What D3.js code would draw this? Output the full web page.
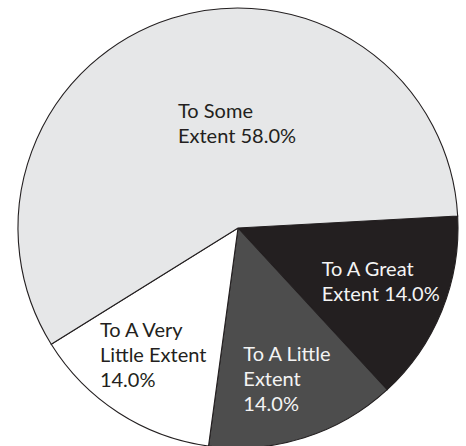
<!DOCTYPE html>
<html><head><meta charset="utf-8">
<script src="https://cdn.jsdelivr.net/npm/d3@7"></script>
<style>html,body{margin:0;padding:0;background:#fff;}svg{display:block;}</style>
</head><body>
<svg id="chart" width="466" height="446"></svg>
<script>
const categories = ["To A Great Extent", "To A Little Extent", "To A Very Little Extent", "To Some Extent"];
const values = [14.0, 14.0, 14.0, 58.0];
const labelLines = [
  ["To A Great", "Extent 14.0%"],
  ["To A Little", "Extent", "14.0%"],
  ["To A Very", "Little Extent", "14.0%"],
  ["To Some", "Extent 58.0%"]
];
const fills = ["#231f20", "#4d4d4d", "#ffffff", "#e6e7e8"];
const textColors = ["#f4f4f4", "#f4f4f4", "#231f20", "#231f20"];

const W = 466, H = 446, cx = 238, cy = 228, R = 220;
const svg = d3.select("#chart");
const g = svg.append("g").attr("transform", `translate(${cx},${cy})`);

const startDeg = 86.9;
const pie = d3.pie().sort(null).value(d => d)
  .startAngle(startDeg * Math.PI / 180)
  .endAngle((startDeg + 360) * Math.PI / 180);
const arcs = pie(values);
const arc = d3.arc().innerRadius(0).outerRadius(R);

g.selectAll("path.slice").data(arcs).join("path")
  .attr("class", "slice")
  .attr("d", arc)
  .attr("fill", (d, i) => fills[i])
  .attr("stroke", "#231f20")
  .attr("stroke-width", 1.1)
  .attr("stroke-linejoin", "miter");

const labelRadius = [0.70, 0.74, 0.71, 0.48];
const lineH = 25;
arcs.forEach((d, i) => {
  const la = d3.arc().innerRadius(R * labelRadius[i]).outerRadius(R * labelRadius[i]);
  let [lx, ly] = la.centroid(d);
  if (i === 3) { lx = -1; }
  const t = g.append("text")
    .attr("font-family", "Lato, 'Open Sans', sans-serif")
    .attr("font-size", 20)
    .attr("fill", textColors[i]);
  const lines = labelLines[i];
  lines.forEach((s, k) => {
    t.append("tspan").attr("x", 0).attr("y", 0).text(s);
  });
  let maxW = 0;
  t.selectAll("tspan").each(function () { maxW = Math.max(maxW, this.getComputedTextLength()); });
  const x0 = lx - maxW / 2;
  const n = lines.length;
  const yTop = ly - (n - 1) * lineH / 2 + 3;
  t.selectAll("tspan").attr("x", x0).attr("y", (s, k) => yTop + k * lineH);
});
</script>
</body></html>
